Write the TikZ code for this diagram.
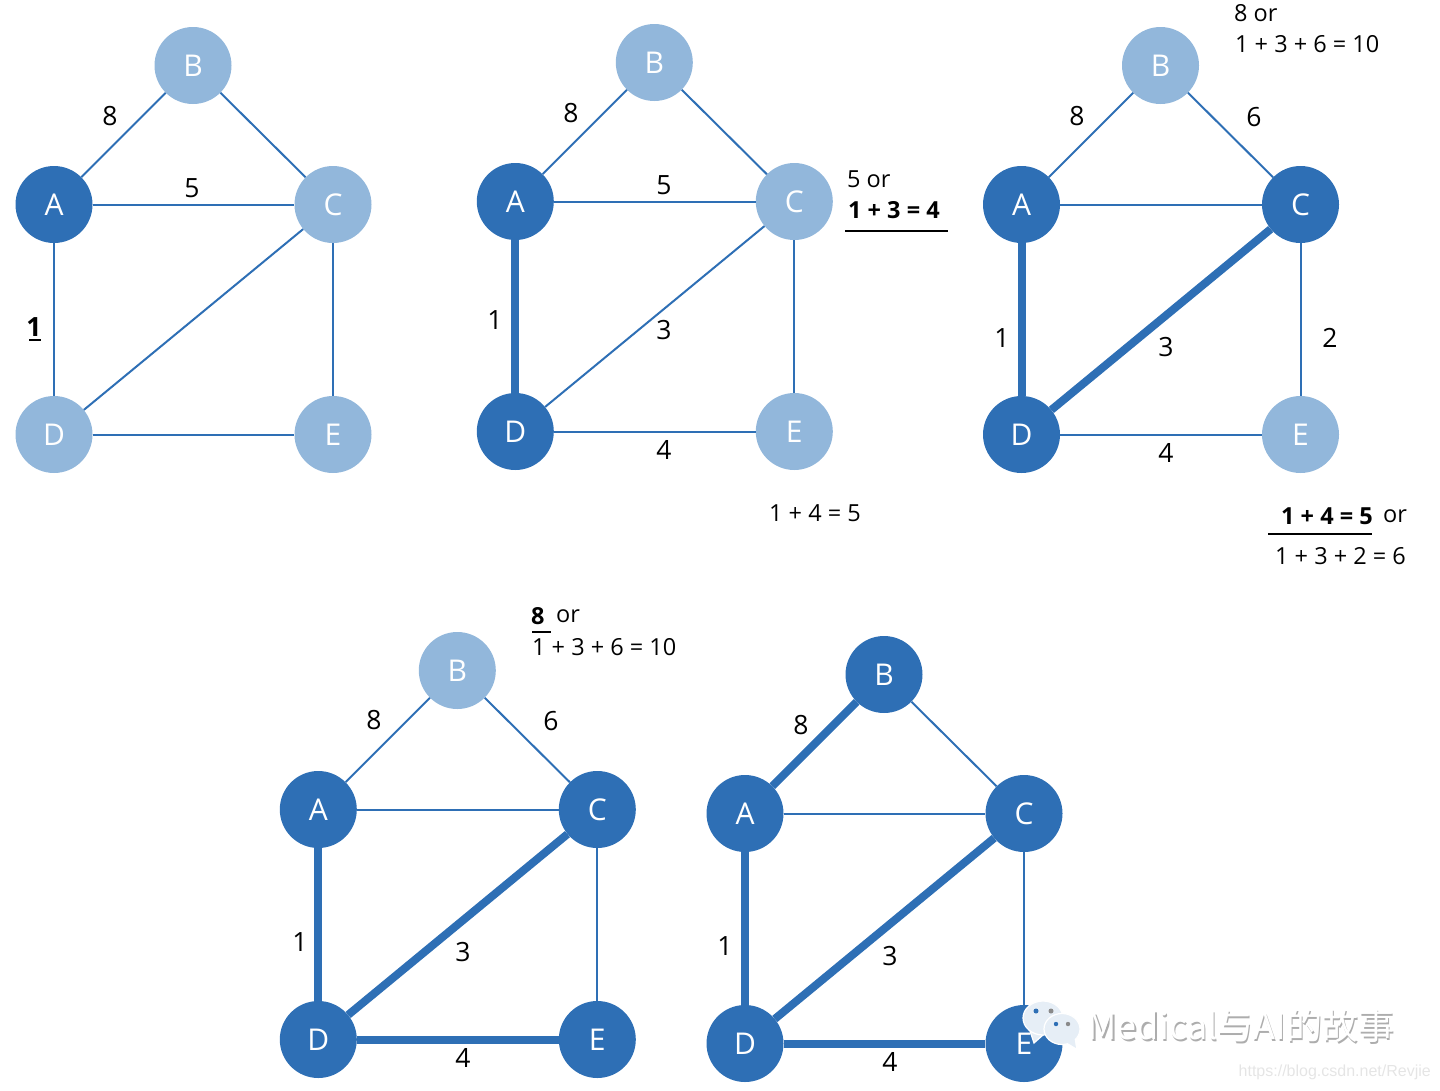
\documentclass[tikz,border=0pt]{standalone}
\usepackage{fontspec}
\setmainfont{Open Sans}
\newfontfamily\cjkfont{Noto Sans CJK SC}
\newfontfamily\urlfont{Liberation Sans}
\usepackage{xcolor}
\usepackage{tikz}
\definecolor{mstblue}{HTML}{2E6FB5}
\definecolor{mstpale}{HTML}{92B7DB}
\definecolor{wmarkgrey}{HTML}{8A8A8A}
\usetikzlibrary{positioning,calc}

\begin{document}
\begin{tikzpicture}[
    x=1pt, y=-1pt,
    vx/.style={circle, minimum size=77pt, inner sep=0pt, text=white, font=\fontsize{30}{30}\selectfont},
    intree/.style={vx, fill=mstblue},
    outside/.style={vx, fill=mstpale},
    thinedge/.style={draw=mstblue, line width=2pt},
    treeedge/.style={draw=mstblue, line width=8pt},
    wlabel/.style={font=\fontsize{26.5}{26.5}\selectfont, inner sep=0pt, text=black},
    sumlabel/.style={font=\fontsize{23.5}{23.5}\selectfont, inner sep=0pt, anchor=west, text=black},
    chosen/.style={sumlabel, font=\fontsize{23.5}{23.5}\selectfont\bfseries},
    rulemark/.style={draw=black, line width=1.6pt},
    bubble/.style={fill=mstblue!12, draw=white, line width=1.2pt},
]
\useasboundingbox (0,0) rectangle (1440,1090);

% --- GRAPHS ---
\foreach \gr/\xoff/\yoff/\sA/\sB/\sC/\sD/\sE/\treelist in {
    a/0/0.5/intree/outside/outside/outside/outside/{},
    b/461.3/-2.5/intree/outside/outside/intree/outside/{A/D},
    c/967.5/0.5/intree/outside/intree/intree/outside/{A/D,C/D},
    d/264.3/605.5/intree/outside/intree/intree/intree/{A/D,C/D,D/E},
    e/691/609.5/intree/intree/intree/intree/intree/{A/D,C/D,D/E,A/B}} {
    \begin{scope}[shift={(\xoff,\yoff)}]
    \node[\sA] (\gr A) at (54,204) {A};
    \node[\sB] (\gr B) at (193,65) {B};
    \node[\sC] (\gr C) at (333,204) {C};
    \node[\sD] (\gr D) at (54,434) {D};
    \node[\sE] (\gr E) at (333,434) {E};
    \foreach \u/\v in {A/B,B/C,A/C,A/D,C/D,C/E,D/E} {
        \draw[thinedge] (\gr\u) -- (\gr\v);
    }
    \foreach \u/\v in \treelist {
        \draw[treeedge] (\gr\u) -- (\gr\v);
    }
    \end{scope}
}

% --- EDGE WEIGHTS ---
\foreach \lbl/\xx/\yy/\wt in {
    aAB/110/116/8, aAC/192/188/5,
    bAB/571/113/8, bAC/664/185/5, bAD/495/320/1, bCD/664/330/3, bDE/664/450/4,
    cAB/1077/116/8, cBC/1254/117/6, cAD/1002/338/1, cCD/1166/347/3, cCE/1330/338/2, cDE/1166/453/4,
    dAB/374/720/8, dBC/551/721/6, dAD/300/942/1, dCD/463/952/3, dDE/463/1058/4,
    eAB/801/725/8, eAD/725/946/1, eCD/890/956/3, eDE/890/1062/4} {
    \node[wlabel] (w\lbl) at (\xx,\yy) {\wt};
}
\node[wlabel, font=\fontsize{26.5}{26.5}\selectfont\bfseries] (waAD) at (34,327) {1};
\draw[rulemark] (29,340) -- (41,340);

% --- PATH SUMS ---
\node[sumlabel] (sumbC) at (847,179) {5 or};
\node[chosen] (sumbCb) at (848,210) {1 + 3 = 4};
\draw[rulemark] (845,231) -- (948,231);
\node[sumlabel] (sumbE) at (769,513) {1 + 4 = 5};

\node[sumlabel] (sumcB) at (1234,13) {8 or};
\node[sumlabel] (sumcBb) at (1235,44) {1 + 3 + 6 = 10};
\node[chosen] (sumcE) at (1281,516) {1 + 4 = 5};
\node[sumlabel] (sumcEor) at (1383,516) {or};
\draw[rulemark] (1268,534) -- (1372,534);
\node[sumlabel] (sumcEb) at (1275,556) {1 + 3 + 2 = 6};

\node[chosen] (sumdB) at (531,616) {8};
\node[sumlabel] (sumdBor) at (556,616) {or};
\draw[rulemark] (532,632) -- (551,632);
\node[sumlabel] (sumdBb) at (532,647) {1 + 3 + 6 = 10};

% --- WATERMARK ---
\fill[bubble] (1030,1031) -- (1034,1043) -- (1043,1035) -- cycle;
\fill[bubble, draw] (1043,1018) ellipse (20 and 17);
\fill[bubble, draw] (1062,1029) ellipse (18 and 15.5);
\fill[bubble, draw=none] (1066,1042) -- (1076,1048) -- (1074,1036) -- cycle;
\fill[mstblue] (1036,1011) circle (2.5);
\fill[wmarkgrey] (1051,1011) circle (2.5);
\fill[mstblue] (1056,1024) circle (2.2);
\fill[wmarkgrey] (1068,1024) circle (2.2);
\node[inner sep=0pt, anchor=west, text=wmarkgrey!70, font=\fontsize{36}{36}\selectfont\cjkfont] (wmshadow) at (1088.8,1027.3) {Medical与AI的故事};
\node[inner sep=0pt, anchor=west, text=white, font=\fontsize{36}{36}\selectfont\cjkfont] (wmtext) at (1087.5,1026) {Medical与AI的故事};
\node[inner sep=0pt, anchor=east, text=black!10, font=\fontsize{16}{16}\selectfont\urlfont] (wmurl) at (1431,1072) {https://blog.csdn.net/Revjie};

\end{tikzpicture}
\end{document}
